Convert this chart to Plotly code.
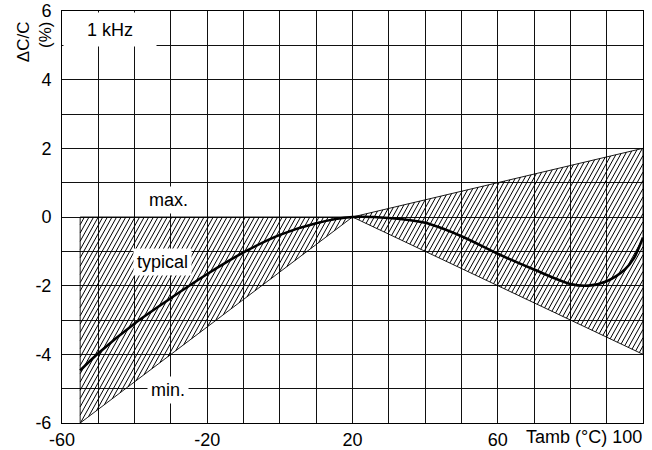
import plotly.graph_objects as go
import numpy as np

# ---------------- data ----------------
typ_temp = [-55, -50, -40, -30, -20, -10, 0, 10, 20, 30, 40, 50, 60, 70, 80, 85, 90, 95, 97.5, 100]
typ_dcc = [-4.47, -3.97, -3.1, -2.36, -1.66, -1.03, -0.52, -0.18, 0.0, -0.03, -0.17, -0.56,
           -1.07, -1.53, -1.95, -2.0, -1.87, -1.53, -1.2, -0.6]

# tolerance band: max / min limits (left and right parts)
band_left_temp = [-55, 20]
band_left_max = [0, 0]
band_left_min = [-6, 0]
band_right_temp = [20, 100]
band_right_max = [0, 2]
band_right_min = [0, -4]

x_ticks = [-60, -20, 20, 60]
y_ticks = [-6, -4, -2, 0, 2, 4, 6]

# ---------------- layout constants ----------------
W, H = 652, 450
ML, MR, MT, MB = 62, 9, 11, 27
XR = [-60, 100]
YR = [-6, 6]
PW = W - ML - MR
PH = H - MT - MB
FONT = "Liberation Sans, Arial, sans-serif"

sx = PW / (XR[1] - XR[0])
sy = PH / (YR[1] - YR[0])


def hatch(poly_x, poly_y, spacing=4.6, k=1.8):
    """Hatch lines ('/' direction) clipped to a convex polygon; computed in pixel space."""
    pu = [(x - XR[0]) * sx for x in poly_x]
    pv = [(y - YR[0]) * sy for y in poly_y]
    n = len(pu)
    cs = [u - v / k for u, v in zip(pu, pv)]
    c = np.floor(min(cs) / spacing) * spacing
    xs, ys = [], []
    while c <= max(cs):
        pts = []
        for i in range(n):
            u1, v1 = pu[i], pv[i]
            u2, v2 = pu[(i + 1) % n], pv[(i + 1) % n]
            f1 = v1 - k * (u1 - c)
            f2 = v2 - k * (u2 - c)
            if f1 == f2:
                continue
            if (f1 <= 0 <= f2) or (f2 <= 0 <= f1):
                t = f1 / (f1 - f2)
                pts.append((u1 + t * (u2 - u1), v1 + t * (v2 - v1)))
        if len(pts) >= 2:
            pts.sort()
            a, b = pts[0], pts[-1]
            if abs(a[0] - b[0]) + abs(a[1] - b[1]) > 0.5:
                xs += [a[0] / sx + XR[0], b[0] / sx + XR[0], None]
                ys += [a[1] / sy + YR[0], b[1] / sy + YR[0], None]
        c += spacing
    return xs, ys


fig = go.Figure()

lx = [band_left_temp[0], band_left_temp[1], band_left_temp[0]]
ly = [band_left_max[0], band_left_max[1], band_left_min[0]]
rx = [band_right_temp[0], band_right_temp[1], band_right_temp[1]]
ry = [band_right_max[0], band_right_max[1], band_right_min[1]]

for px, py in [(lx, ly), (rx, ry)]:
    hx, hy = hatch(px, py)
    fig.add_trace(go.Scatter(x=hx, y=hy, mode="lines",
                             line=dict(color="black", width=1.0),
                             hoverinfo="skip", showlegend=False))
    fig.add_trace(go.Scatter(x=px + [px[0]], y=py + [py[0]], mode="lines",
                             line=dict(color="black", width=0.9),
                             hoverinfo="skip", showlegend=False))

fig.add_trace(go.Scatter(x=typ_temp, y=typ_dcc, mode="lines",
                         line=dict(color="black", width=2.6, shape="spline", smoothing=0.8),
                         showlegend=False))

axis_common = dict(showgrid=True, gridcolor="#111111", gridwidth=1, automargin=False,
                   zeroline=False, showline=True, linecolor="black", linewidth=1,
                   mirror=True, tickcolor="rgba(0,0,0,0)",
                   tickfont=dict(family=FONT, size=18, color="black"))

fig.update_xaxes(range=XR, ticks="",
                 tickvals=list(range(-60, 101, 10)),
                 ticktext=[str(v) if v in x_ticks else "" for v in range(-60, 101, 10)],
                 **axis_common)
fig.update_yaxes(range=YR, ticks="outside", ticklen=6,
                 tickvals=list(range(-6, 7)),
                 ticktext=[str(v) if v in y_ticks else "" for v in range(-6, 7)],
                 **axis_common)

ann_font = dict(family=FONT, size=18, color="black")
annotations = [
    dict(x=XR[0], y=YR[1], xref="x", yref="y", xanchor="left", yanchor="top",
         text="1 kHz", showarrow=False, font=ann_font, bgcolor="white",
         width=90, height=31, align="center", xshift=1, yshift=-1),
    dict(x=-30.8, y=0.5, xref="x", yref="y", text="max.", showarrow=False,
         font=ann_font, bgcolor="white", borderpad=3),
    dict(x=-32.3, y=-1.3, xref="x", yref="y", text="typical", showarrow=False,
         font=ann_font, bgcolor="white", borderpad=3),
    dict(x=-30.7, y=-5.05, xref="x", yref="y", text="min.", showarrow=False,
         font=ann_font, bgcolor="white", borderpad=3),
    dict(x=1.0, y=0, xref="paper", yref="paper", xanchor="right", yanchor="top",
         text="Tamb (°C) 100", showarrow=False, font=ann_font, yshift=-2, xshift=1),
    dict(x=-0.046, y=0.925, xref="paper", yref="paper", xanchor="center", yanchor="middle",
         text="ΔC/C<br>(%)", textangle=-90, showarrow=False,
         font=dict(family=FONT, size=17, color="black"), align="right"),
]

fig.update_layout(width=W, height=H, margin=dict(l=ML, r=MR, t=MT, b=MB),
                  paper_bgcolor="white", plot_bgcolor="white",
                  annotations=annotations, showlegend=False)

fig.write_html("out.html", config={"displayModeBar": False},
               post_script="document.body.style.margin='0px';document.body.style.overflow='hidden';")
